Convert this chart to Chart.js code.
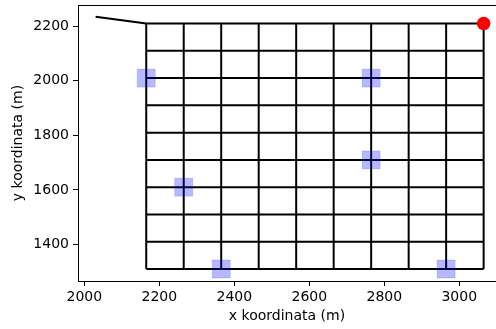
<!DOCTYPE html>
<html>
<head>
<meta charset="utf-8">
<script src="https://cdn.jsdelivr.net/npm/chart.js@4.4.1/dist/chart.umd.min.js"></script>
<style>
  html, body { margin: 0; padding: 0; background: #fff; }
  #wrap { width: 496px; height: 329px; position: relative; }
</style>
</head>
<body>
<div id="wrap"><canvas id="chart"></canvas></div>
<script>
// grid of survey lines
const gridX = [2165, 2265, 2365, 2465, 2565, 2665, 2765, 2865, 2965, 3065];
const gridY = [1310, 1410, 1510, 1610, 1710, 1810, 1910, 2010, 2110, 2210];
// approach line into the grid
const leadX = [2030, 2165];
const leadY = [2235, 2210];
// blue square markers
const squareX = [2165, 2765, 2765, 2265, 2365, 2965];
const squareY = [2010, 2010, 1710, 1610, 1310, 1310];
// red point
const redX = [3065];
const redY = [2210];

const xTicks = [2000, 2200, 2400, 2600, 2800, 3000];
const yTicks = [1400, 1600, 1800, 2000, 2200];

const FONT = "'DejaVu Sans', sans-serif";
const lineStyle = {
  type: 'line', showLine: true, borderColor: '#000', borderWidth: 2,
  pointRadius: 0, fill: false, order: 2
};

let datasets = [];
datasets.push({
  label: 'red', type: 'scatter', order: 0,
  data: redX.map((x, i) => ({x: x, y: redY[i]})),
  backgroundColor: '#ff0000', borderColor: '#ff0000', pointRadius: 6.8, borderWidth: 0
});
datasets.push({
  label: 'squares', type: 'scatter', order: 1,
  data: squareX.map((x, i) => ({x: x, y: squareY[i]})),
  pointStyle: 'rect', pointRadius: 12.7,
  backgroundColor: 'rgba(0,0,255,0.28)', borderColor: 'rgba(0,0,255,0.15)', borderWidth: 1
});
datasets.push(Object.assign({}, lineStyle, {
  data: leadX.map((x, i) => ({x: x, y: leadY[i]}))
}));
gridX.forEach(x => {
  datasets.push(Object.assign({}, lineStyle, {
    data: [{x: x, y: gridY[0]}, {x: x, y: gridY[gridY.length - 1]}]
  }));
});
gridY.forEach(y => {
  datasets.push(Object.assign({}, lineStyle, {
    data: [{x: gridX[0], y: y}, {x: gridX[gridX.length - 1], y: y}]
  }));
});

// pin the plot box where matplotlib put it (Chart.js adds label padding otherwise)
const AREA = { left: 78, right: 496, top: 5, bottom: 281 };
const pinArea = {
  id: 'pinArea',
  afterLayout(chart) {
    Object.assign(chart.chartArea, AREA);
    chart.chartArea.width = AREA.right - AREA.left;
    chart.chartArea.height = AREA.bottom - AREA.top;
    const x = chart.scales.x, x2 = chart.scales.x2, y = chart.scales.y;
    x.left = x2.left = AREA.left;
    x.right = x2.right = AREA.right;
    x.width = x2.width = AREA.right - AREA.left;
    x.top = AREA.bottom; x.bottom = chart.height; x.height = x.bottom - x.top;
    x2.top = 0; x2.bottom = AREA.top; x2.height = AREA.top;
    y.left = 0; y.right = AREA.left; y.width = AREA.left;
    y.top = AREA.top; y.bottom = AREA.bottom; y.height = AREA.bottom - AREA.top;
    [x, x2, y].forEach(s => s.configure());
  }
};

new Chart(document.getElementById('chart'), {
  type: 'scatter',
  data: { datasets: datasets },
  plugins: [pinArea],
  options: {
    responsive: true,
    maintainAspectRatio: false,
    animation: false,
    layout: { padding: 0 },
    plugins: { legend: { display: false }, tooltip: { enabled: false } },
    scales: {
      x: {
        type: 'linear', position: 'bottom', min: 1983, max: 3098,
        afterBuildTicks: s => { s.ticks = xTicks.map(v => ({value: v})); },
        afterFit: s => { s.height = 48; },
        grid: { drawOnChartArea: false, drawTicks: true, tickLength: 5, tickColor: '#000', tickWidth: 1 },
        border: { display: true, color: '#000', width: 1 },
        ticks: { color: '#000', padding: 3, maxRotation: 0, callback: v => String(v), font: { family: FONT, size: 14 } },
        title: { display: true, text: 'x koordinata (m)', color: '#000', padding: { top: 0, bottom: 4.6 }, font: { family: FONT, size: 14 } }
      },
      x2: {
        type: 'linear', axis: 'x', position: 'top', min: 1983, max: 3098,
        afterFit: s => { s.height = 5; },
        grid: { display: false, drawTicks: false },
        border: { display: true, color: '#000', width: 1 },
        ticks: { display: false }
      },
      y: {
        type: 'linear', min: 1266, max: 2278,
        afterBuildTicks: s => { s.ticks = yTicks.map(v => ({value: v})); },
        afterFit: s => { s.width = 78; },
        grid: { drawOnChartArea: false, drawTicks: true, tickLength: 5, tickColor: '#000', tickWidth: 1 },
        border: { display: true, color: '#000', width: 1 },
        ticks: { color: '#000', padding: 4, callback: v => String(v), font: { family: FONT, size: 14 } },
        title: { display: true, text: 'y koordinata (m)', color: '#000', padding: { top: 10, bottom: 0 }, font: { family: FONT, size: 14 } }
      }
    }
  }
});
</script>
</body>
</html>
